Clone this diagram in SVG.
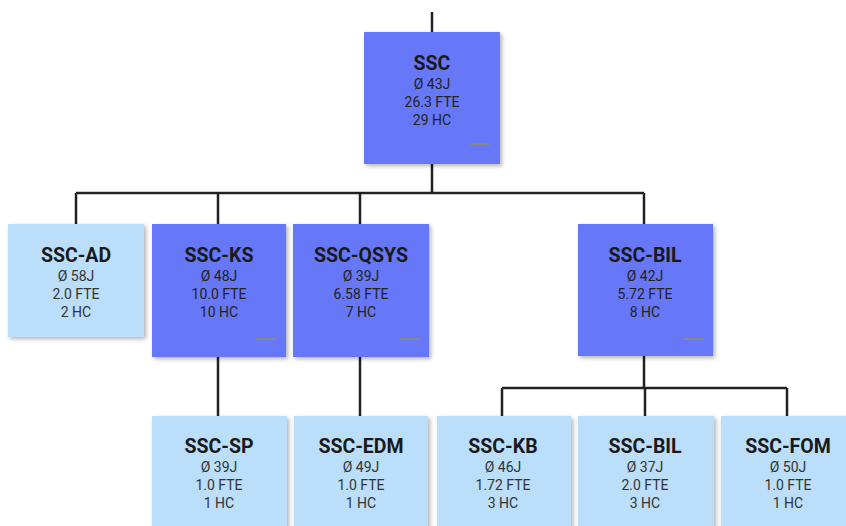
<svg xmlns="http://www.w3.org/2000/svg" width="846" height="526" viewBox="0 0 846 526">
<defs>
<filter id="sh" x="-10%" y="-10%" width="130%" height="130%">
<feDropShadow dx="2" dy="2" stdDeviation="2" flood-color="#000" flood-opacity="0.3"/>
</filter>
<style>
.dk{fill:#6677F8;filter:url(#sh)}
.lt{fill:#BBDEFA;filter:url(#sh)}
.t{font-family:Roboto,"Liberation Sans",sans-serif;font-weight:bold;font-size:19.5px;fill:#1a1a1a;text-anchor:middle}
.s{font-family:Roboto,"Liberation Sans",sans-serif;font-size:14px;fill:#333;text-anchor:middle}
.dk~.s{fill:#222}
.m{stroke:#888;stroke-width:2}
.c{stroke:#222;stroke-width:2.5;fill:none}
</style>
</defs>
<g id="connectors">
<path class="c" d="M432 12V32"/>
<path class="c" d="M432 164V193M76 193H644M76 193V224M218 193V224M360 193V224M644 193V224"/>
<path class="c" d="M218 357V416M360 357V416"/>
<path class="c" d="M644 356V388M502 388H787M502 388V416M645 388V416M787 388V416"/>
</g>
<g id="n-ssc">
<rect class="dk" x="364" y="32" width="136" height="132"/>
<text class="t" x="432" y="70">SSC</text>
<text class="s" x="432" y="89">Ø 43J</text>
<text class="s" x="432" y="107">26.3 FTE</text>
<text class="s" x="432" y="125">29 HC</text>
<line class="m" x1="470" y1="144" x2="490" y2="144"/>
</g>
<g id="n-ssc-ad">
<rect class="lt" x="8" y="224" width="136" height="113"/>
<text class="t" x="76" y="262">SSC-AD</text>
<text class="s" x="76" y="281">Ø 58J</text>
<text class="s" x="76" y="299">2.0 FTE</text>
<text class="s" x="76" y="317">2 HC</text>
</g>
<g id="n-ssc-ks">
<rect class="dk" x="152" y="224" width="134" height="133"/>
<text class="t" x="219" y="262">SSC-KS</text>
<text class="s" x="219" y="281">Ø 48J</text>
<text class="s" x="219" y="299">10.0 FTE</text>
<text class="s" x="219" y="317">10 HC</text>
<line class="m" x1="256" y1="339" x2="276" y2="339"/>
</g>
<g id="n-ssc-qsys">
<rect class="dk" x="293" y="224" width="136" height="133"/>
<text class="t" x="361" y="262">SSC-QSYS</text>
<text class="s" x="361" y="281">Ø 39J</text>
<text class="s" x="361" y="299">6.58 FTE</text>
<text class="s" x="361" y="317">7 HC</text>
<line class="m" x1="399" y1="339" x2="419" y2="339"/>
</g>
<g id="n-ssc-bil">
<rect class="dk" x="578" y="224" width="135" height="132"/>
<text class="t" x="645" y="262">SSC-BIL</text>
<text class="s" x="645" y="281">Ø 42J</text>
<text class="s" x="645" y="299">5.72 FTE</text>
<text class="s" x="645" y="317">8 HC</text>
<line class="m" x1="683" y1="339" x2="703" y2="339"/>
</g>
<g id="n-ssc-sp">
<rect class="lt" x="152" y="416" width="135" height="120"/>
<text class="t" x="219" y="453">SSC-SP</text>
<text class="s" x="219" y="472">Ø 39J</text>
<text class="s" x="219" y="490">1.0 FTE</text>
<text class="s" x="219" y="508">1 HC</text>
</g>
<g id="n-ssc-edm">
<rect class="lt" x="294" y="416" width="134" height="120"/>
<text class="t" x="361" y="453">SSC-EDM</text>
<text class="s" x="361" y="472">Ø 49J</text>
<text class="s" x="361" y="490">1.0 FTE</text>
<text class="s" x="361" y="508">1 HC</text>
</g>
<g id="n-ssc-kb">
<rect class="lt" x="437" y="416" width="134" height="120"/>
<text class="t" x="503" y="453">SSC-KB</text>
<text class="s" x="503" y="472">Ø 46J</text>
<text class="s" x="503" y="490">1.72 FTE</text>
<text class="s" x="503" y="508">3 HC</text>
</g>
<g id="n-ssc-bil2">
<rect class="lt" x="578" y="416" width="136" height="120"/>
<text class="t" x="645" y="453">SSC-BIL</text>
<text class="s" x="645" y="472">Ø 37J</text>
<text class="s" x="645" y="490">2.0 FTE</text>
<text class="s" x="645" y="508">3 HC</text>
</g>
<g id="n-ssc-fom">
<rect class="lt" x="721" y="416" width="136" height="120"/>
<text class="t" x="788" y="453">SSC-FOM</text>
<text class="s" x="788" y="472">Ø 50J</text>
<text class="s" x="788" y="490">1.0 FTE</text>
<text class="s" x="788" y="508">1 HC</text>
</g>
</svg>
